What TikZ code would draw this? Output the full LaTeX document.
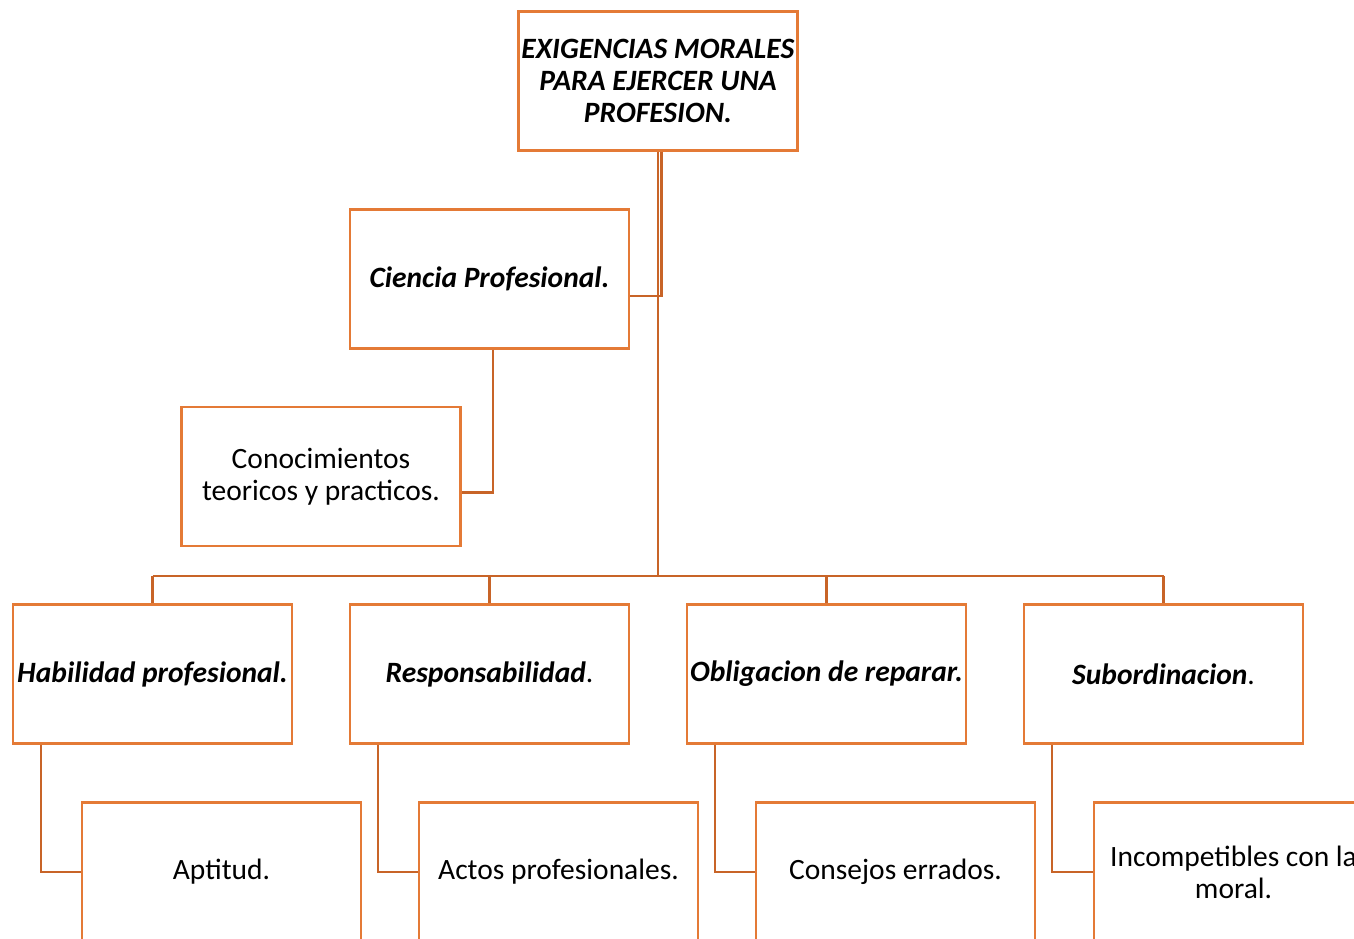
\documentclass[tikz,border=0pt]{standalone}
\usepackage{fontspec}
\setmainfont{Carlito}
\usetikzlibrary{calc}
\definecolor{boxorange}{RGB}{228,122,54}
\definecolor{lineorange}{RGB}{200,100,40}
\tikzset{
  box/.style={draw=boxorange, line width=2.8pt, fill=white, minimum width=279pt, minimum height=139pt,
    inner sep=1pt, align=center, font=\fontsize{29.5}{32}\selectfont},
  conn/.style={draw=lineorange, line width=2.7pt},
}
\begin{document}
\begin{tikzpicture}[x=1pt,y=-1pt]
\useasboundingbox (0,0) rectangle (1354,938);
\clip (0,0) rectangle (1354,938);
% nodes
\node[box] (top) at (658,81) {\textbf{\textit{EXIGENCIAS MORALES}}\\\textbf{\textit{PARA EJERCER UNA}}\\\textbf{\textit{PROFESION.}}};
\node[box] (cie) at (489.5,279) {\textbf{\textit{Ciencia Profesional.}}};
\node[box] (con) at (321,476.5) {Conocimientos\\teoricos y practicos.};
\node[box] (hab) at (152.5,674) {\textbf{\textit{Habilidad profesional.}}};
\node[box] (res) at (489.5,674) {\textbf{\textit{Responsabilidad}}.};
\node[box] (obl) at (826.5,674) {\textbf{\textit{Obligacion de reparar.}}};
\node[box] (sub) at (1163.5,674) {\textbf{\textit{Subordinacion}}.};
\node[box] (apt) at (221.5,872) {Aptitud.};
\node[box] (act) at (558.5,872) {Actos profesionales.};
\node[box] (cons) at (895.5,872) {Consejos errados.};
\node[box] (inc) at (1233.5,872) {Incompetibles con la\\moral.};
\coordinate (bus) at (658,576);
% connectors
\draw[conn] (top.south) -- (top.south |- bus);
\draw[conn] ($(top.south)+(3.5,0)$) |- ($(cie.east)+(0,17)$);
\draw[conn] ($(cie.south)+(3.5,0)$) |- ($(con.east)+(0,16)$);
\draw[conn] (hab.north |- bus) -- (sub.north |- bus);
\foreach \n in {hab,res,obl,sub}{
  \draw[conn] (\n.north |- bus) -- (\n.north);
}
\draw[conn] ($(hab.south)+(-111.5,0)$) |- (apt.west);
\draw[conn] ($(res.south)+(-111.5,0)$) |- (act.west);
\draw[conn] ($(obl.south)+(-111.5,0)$) |- (cons.west);
\draw[conn] ($(sub.south)+(-111.5,0)$) |- (inc.west);
\end{tikzpicture}
\end{document}
